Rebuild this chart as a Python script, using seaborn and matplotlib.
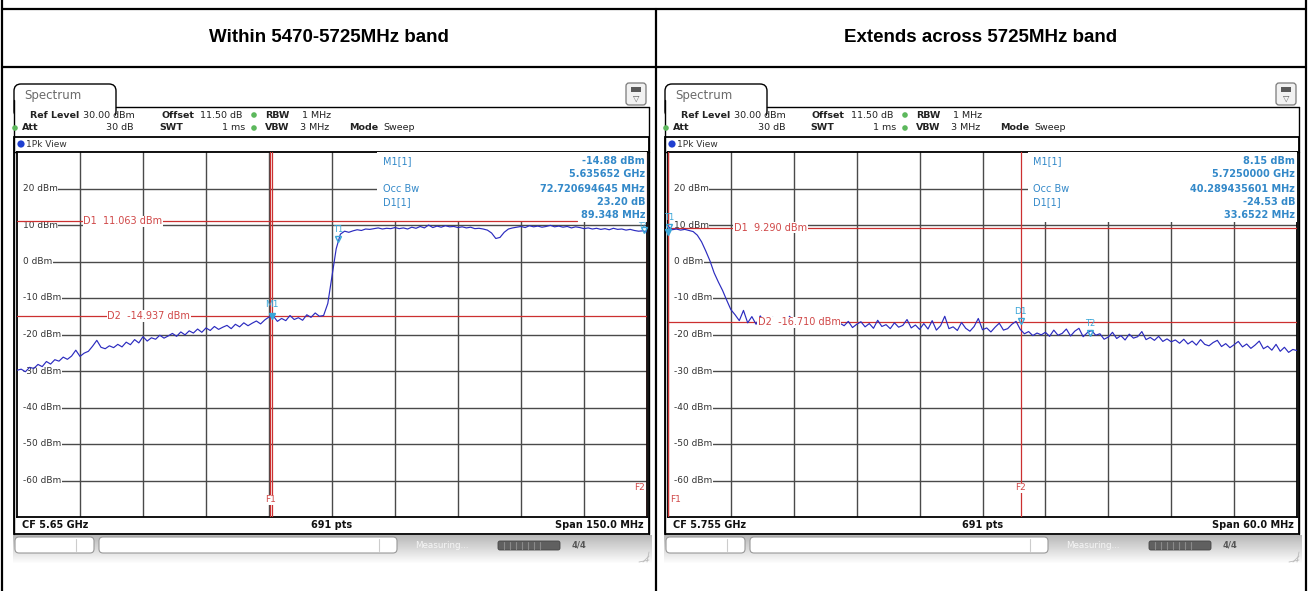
import numpy as np
import matplotlib
matplotlib.use("Agg")
import matplotlib.pyplot as plt
import seaborn as sns
from matplotlib.patches import Rectangle, FancyBboxPatch, Circle

# ---------------- data ----------------
headers = ["Within 5470-5725MHz band", "Extends across 5725MHz band"]
y_ticks = [20, 10, 0, -10, -20, -30, -40, -50, -60]

# left sweep: 5.575 - 5.725 GHz (CF 5.65 GHz, span 150 MHz)
left_start, left_stop = 5.575, 5.725
left_levels = [
    -29.8, -29.5, -30.2, -29.0, -29.3, -28.2, -28.8, -27.4, -28.1, -26.9,
    -27.3, -26.2, -26.8, -25.9, -24.3, -26.0, -25.1, -24.6, -23.2, -21.6,
    -23.5, -23.9, -23.1, -23.6, -22.7, -23.4, -22.1, -22.8, -21.4, -22.3,
    -20.6, -21.8, -20.9, -21.3, -20.2, -21.0, -20.4, -19.7, -20.5, -19.3,
    -20.1, -19.0, -19.6, -18.5, -19.4, -18.2, -18.9, -17.8, -18.6, -18.0,
    -17.5, -18.4, -17.2, -17.9, -16.8, -17.6, -16.9, -16.3, -17.1, -16.0,
    -15.2, -14.9, -16.4, -15.6, -16.2, -14.8, -15.9, -15.4, -16.1, -14.6,
    -15.3, -14.1, -15.0, -14.8, -11.5, -4.0, 3.5, 7.5, 8.3, 8.0,
    8.4, 8.7, 8.5, 8.9, 8.8, 9.0, 9.2, 8.9, 9.1, 9.0,
    9.3, 9.0, 9.2, 8.9, 9.4, 9.1, 9.6, 9.2, 10.0, 9.3,
    9.7, 9.4, 9.8, 9.5, 9.6, 9.3, 9.5, 9.2, 9.4, 9.0,
    9.1, 8.9, 8.6, 7.8, 6.3, 6.6, 8.0, 8.9, 9.2, 9.4,
    9.6, 9.3, 9.8, 9.5, 9.7, 9.4, 9.6, 9.9, 9.5, 9.7,
    9.4, 9.6, 9.2, 9.5, 9.3, 9.0, 9.2, 8.9, 9.1, 8.8,
    9.0, 8.7, 9.1, 8.8, 8.9, 8.6, 8.8, 8.5, 8.3, 8.4, 8.1,
]

# right sweep: 5.725 - 5.785 GHz (CF 5.755 GHz, span 60 MHz)
right_start, right_stop = 5.725, 5.785
right_levels = [
    9.6, 8.7, 8.9, 8.6, 8.8, 8.5, 8.2, 7.2, 5.4, 2.9,
    0.2, -3.1, -5.6, -7.9, -10.6, -13.2, -14.6, -16.2, -13.4, -16.8,
    -15.1, -17.2, -14.9, -16.6, -17.0, -15.3, -16.9, -16.2, -17.3, -15.0,
    -16.8, -17.1, -16.0, -17.4, -15.4, -16.9, -17.5, -16.3, -17.2, -16.6,
    -17.8, -16.9, -17.6, -16.4, -18.1, -17.2, -16.5, -17.9, -17.0, -18.3,
    -16.1, -17.8, -17.3, -18.4, -16.8, -18.0, -17.5, -15.9, -18.2, -17.4,
    -18.6, -17.0, -18.5, -16.2, -18.8, -17.6, -15.0, -18.4, -17.9, -18.9,
    -16.7, -18.3, -19.1, -17.8, -15.6, -18.7, -18.2, -19.3, -18.0, -16.9,
    -18.8, -18.4, -17.2, -16.4, -18.6, -19.8, -19.2, -20.3, -19.6, -20.1,
    -19.4, -20.5, -18.8, -20.2, -19.7, -18.5, -20.4, -19.1, -18.3, -20.6,
    -19.5, -18.9, -20.2, -19.8, -21.3, -20.7, -19.4, -21.1, -20.3, -21.5,
    -19.9, -21.0, -20.6, -19.2, -21.4, -20.8, -21.6, -20.5, -21.9, -21.2,
    -22.0, -21.5, -22.4, -21.3, -22.6, -21.8, -22.9, -21.4, -22.7, -23.1,
    -22.2, -21.6, -23.3, -22.5, -23.6, -22.8, -21.9, -23.4, -22.6, -23.8,
    -22.9, -21.8, -23.9, -23.2, -24.3, -22.7, -24.6, -23.5, -24.9, -24.1, -24.4,
]

left_info = {
    "cf": "CF 5.65 GHz", "span": "Span 150.0 MHz",
    "d1": 11.063, "d2": -14.937, "d1_txt": "D1  11.063 dBm", "d2_txt": "D2  -14.937 dBm",
    "m1_f": 5.635652, "m1_v": -14.88, "f1": 5.63535, "f2": 5.725,
    "t1_f": 5.6515, "t1_v": 6.2, "t2_f": 5.7242, "t2_v": 8.6,
    "rows": [("M1[1]", "-14.88 dBm"), ("", "5.635652 GHz"), ("Occ Bw", "72.720694645 MHz"),
             ("D1[1]", "23.20 dB"), ("", "89.348 MHz")],
}
right_info = {
    "cf": "CF 5.755 GHz", "span": "Span 60.0 MHz",
    "d1": 9.290, "d2": -16.710, "d1_txt": "D1  9.290 dBm", "d2_txt": "D2  -16.710 dBm",
    "m1_f": 5.7250, "m1_v": 8.15, "f1": 5.7250, "f2": 5.7586522,
    "t1_f": 5.7251, "t1_v": 9.4, "t2_f": 5.76528, "t2_v": -19.5,
    "rows": [("M1[1]", "8.15 dBm"), ("", "5.7250000 GHz"), ("Occ Bw", "40.289435601 MHz"),
             ("D1[1]", "-24.53 dB"), ("", "33.6522 MHz")],
}

# ---------------- style ----------------
sns.set_style("white")
plt.rcParams["font.family"] = ["DejaVu Sans"]

W, H = 1309, 591
RED = "#cc3030"
RED_T = "#d04848"
BLUE_T = "#3389c9"
MARK = "#3aa6d8"
TRACE = "#2b2bbf"
GRID = "#4a4a4a"

fig = plt.figure(figsize=(W / 100, H / 100), dpi=100)
bg = fig.add_axes([0, 0, 1, 1])
bg.set_xlim(0, W)
bg.set_ylim(H, 0)
bg.axis("off")


def rect(x0, y0, x1, y1):
    return [x0 / W, 1 - y1 / H, (x1 - x0) / W, (y1 - y0) / H]


# table
for x, y0 in ((2, 0), (656, 9), (1306, 0)):
    bg.plot([x, x], [y0, H], color="black", lw=1.6, zorder=1)
for y in (9, 67):
    bg.plot([2, 1306], [y, y], color="black", lw=1.6, zorder=1)
for cx, t in zip((329, 981), headers):
    bg.text(cx, 38, t, ha="center", va="center", fontsize=13.5, fontweight="bold",
            family=["Liberation Sans", "DejaVu Sans"], color="black")


def chrome(L, R):
    # tab
    bg.add_patch(FancyBboxPatch((L - 3, 84), 102, 34, boxstyle="round,pad=0,rounding_size=7",
                                fc="white", ec="black", lw=1.0, zorder=2))
    bg.add_patch(Rectangle((L - 2, 107.6), 100, 12, fc="white", ec="none", zorder=3))
    bg.text(L + 7, 96, "Spectrum", fontsize=8.5, color="#6a6a6a", va="center", zorder=4)
    # frame
    bg.plot([L + 99, R + 2], [107, 107], color="black", lw=1.0, zorder=4)
    bg.plot([L - 3, L - 3], [100, 534], color="black", lw=1.0, zorder=4)
    bg.plot([R + 2, R + 2], [107, 534], color="black", lw=1.0, zorder=4)
    bg.add_patch(Rectangle((L - 3, 137), R - L + 5, 397, fc="none", ec="black", lw=1.3, zorder=4))
    bg.plot([L - 3, R + 2], [151.5, 151.5], color="black", lw=1.0, zorder=4)
    # icon
    bg.add_patch(FancyBboxPatch((R - 21, 83), 20, 22, boxstyle="round,pad=0,rounding_size=3",
                                fc="#f2f2f2", ec="#7a7a7a", lw=0.9, zorder=5))
    bg.add_patch(Rectangle((R - 16, 87), 10, 5, fc="#5a5a5a", ec="none", zorder=6))
    bg.text(R - 11, 98.5, "\u25BD", fontsize=6, ha="center", va="center", color="#5a5a5a", zorder=6)
    # settings
    fs = 6.8
    y1, y2 = 115, 128
    items = [
        (L + 13, y1, "Ref Level", "bold", "left"), (L + 66, y1, "30.00 dBm", "normal", "left"),
        (L + 144, y1, "Offset", "bold", "left"), (L + 183, y1, "11.50 dB", "normal", "left"),
        (L + 248, y1, "RBW", "bold", "left"), (L + 285, y1, "1 MHz", "normal", "left"),
        (L + 5, y2, "Att", "bold", "left"), (L + 117, y2, "30 dB", "normal", "right"),
        (L + 142, y2, "SWT", "bold", "left"), (L + 228, y2, "1 ms", "normal", "right"),
        (L + 248, y2, "VBW", "bold", "left"), (L + 283, y2, "3 MHz", "normal", "left"),
        (L + 332, y2, "Mode", "bold", "left"), (L + 366, y2, "Sweep", "normal", "left"),
    ]
    for x, y, t, wt, ha in items:
        bg.text(x, y, t, fontsize=fs, fontweight=wt, ha=ha, va="center", color="#222", zorder=5)
    for x, y in ((L + 237, y1), (L + 237, y2), (L - 2, y2)):
        bg.add_patch(Circle((x, y), 2.8, fc="#5cb85c", ec="none", zorder=6))
    bg.add_patch(Circle((L + 4, 144), 3.6, fc="#1f3fd0", ec="none", zorder=6))
    bg.text(L + 9, 144.5, "1Pk View", fontsize=6.5, va="center", color="#333", zorder=6)
    # status bar gradient
    grad = np.linspace(0.72, 0.99, 40).reshape(-1, 1)
    bg.imshow(grad, extent=[L - 4, R + 5, 563, 535], cmap="gray", vmin=0, vmax=1,
              aspect="auto", zorder=1, interpolation="bilinear")
    bg.add_patch(FancyBboxPatch((L - 2, 537), 79, 16, boxstyle="round,pad=0,rounding_size=4",
                                fc="white", ec="#999", lw=0.8, zorder=2))
    bg.plot([L + 59, L + 59], [539, 551], color="#ccc", lw=0.8, zorder=3)
    bg.add_patch(FancyBboxPatch((L + 82, 537), 298, 16, boxstyle="round,pad=0,rounding_size=4",
                                fc="white", ec="#999", lw=0.8, zorder=2))
    bg.plot([L + 362, L + 362], [539, 551], color="#ccc", lw=0.8, zorder=3)
    bg.text(L + 398, 545, "Measuring...", fontsize=6.3, color="white", alpha=0.8, va="center", zorder=3)
    bg.add_patch(FancyBboxPatch((L + 481, 541), 62, 9, boxstyle="round,pad=0,rounding_size=2",
                                fc="#606060", ec="#444", lw=0.6, zorder=3))
    for k in range(1, 8):
        bg.plot([L + 481 + 6 * k, L + 481 + 6 * k], [542, 549], color="#8a8a8a", lw=0.8, zorder=4)
    bg.text(L + 555, 545.5, "4/4", fontsize=6, fontweight="bold", color="#555", va="center", zorder=3)
    for k in range(3):
        bg.plot([R - 8 + 4 * k, R + 2], [562, 552 - 4 * k + 8], color="#bbb", lw=0.6, zorder=3)


def panel(L, R, start, stop, levels, info):
    T, B = 152, 517
    chrome(L, R)
    span = stop - start
    freq = np.linspace(start, stop, len(levels))
    ax = fig.add_axes(rect(L, T, R, B))
    ax.set_xlim(start, stop)
    ax.set_ylim(-70, 30)
    ax.set_xticks([])
    ax.set_yticks([])
    for s in ax.spines.values():
        s.set_color("black")
        s.set_linewidth(1.3)
    ax.set_facecolor("white")
    # grid
    for y in y_ticks:
        ax.axhline(y, xmin=0.009, xmax=1, color=GRID, lw=1.0, zorder=1)
    for i in range(1, 10):
        ax.axvline(start + i * span / 10, color=GRID, lw=1.0, zorder=1)
    yt = ax.get_yaxis_transform()
    for y in y_ticks:
        ax.text(0.009, y, f"{y} dBm", transform=yt, fontsize=6.5, color="#333", va="center",
                ha="left", zorder=2, bbox=dict(fc="white", ec="none", pad=0.6))
    # marker text block
    ax.add_patch(Rectangle((0.572, 10.9), 0.43, 20, transform=yt, fc="white", ec="none", zorder=3))
    rows_y = [27.5, 24.0, 19.9, 16.3, 12.7]
    for (lab, val), y in zip(info["rows"], rows_y):
        if lab:
            ax.text(0.581, y, lab, transform=yt, fontsize=7, color=BLUE_T, va="center", ha="left", zorder=6)
        ax.text(0.997, y, val, transform=yt, fontsize=7, fontweight="bold", color=BLUE_T,
                va="center", ha="right", zorder=6)
    # display lines
    d1_end = 0.889 if info["d1"] > 10.5 else 1.0
    ax.axhline(info["d1"], xmin=0, xmax=d1_end, color=RED, lw=0.9, zorder=4)
    ax.axhline(info["d2"], color=RED, lw=0.9, zorder=4)
    ax.text(0.105, info["d1"], info["d1_txt"], transform=yt, fontsize=7, color=RED_T, va="center",
            zorder=5.5, bbox=dict(fc="white", ec="none", pad=0.4))
    ax.text(0.143, info["d2"], info["d2_txt"], transform=yt, fontsize=7, color=RED_T, va="center",
            zorder=5.5, bbox=dict(fc="white", ec="none", pad=0.4))
    # frequency lines
    for f in (info["f1"], info["m1_f"]):
        ax.axvline(f, color=RED, lw=0.9, zorder=4)
    ax.axvline(info["f2"], color=RED, lw=0.9, zorder=4)
    f1_ha = "center" if info["f1"] > start + 0.01 * span else "left"
    f1_x = info["f1"] if f1_ha == "center" else start + 0.004 * span
    ax.text(f1_x, -65.3, "F1", fontsize=6.5, color=RED_T, ha=f1_ha, va="center", zorder=5,
            bbox=dict(fc="white", ec="none", pad=0.3))
    f2_ha = "center" if info["f2"] < stop - 0.01 * span else "right"
    f2_x = info["f2"] if f2_ha == "center" else stop - 0.004 * span
    ax.text(f2_x, -62.0, "F2", fontsize=6.5, color=RED_T, ha=f2_ha, va="center", zorder=5,
            bbox=dict(fc="white", ec="none", pad=0.5))
    # trace
    sns.lineplot(x=freq, y=levels, ax=ax, color=TRACE, linewidth=0.85, estimator=None,
                 sort=False, zorder=5)
    ax.set_xlabel("")
    ax.set_ylabel("")
    # markers
    ax.plot([info["m1_f"]], [info["m1_v"]], marker="v", ms=5, color=MARK, mec=MARK, zorder=7, clip_on=False)
    ax.plot([info["t1_f"]], [info["t1_v"]], marker="v", ms=5, mfc="none", mec=MARK, zorder=7, clip_on=False)
    ax.plot([info["t2_f"]], [info["t2_v"]], marker="v", ms=5, mfc="none", mec=MARK, zorder=7, clip_on=False)
    ax.text(info["t1_f"], info["t1_v"] + 2.6, "T1", fontsize=6, color=MARK, ha="center", va="center", zorder=7)
    if info["t2_f"] > stop - 0.01 * span:
        ax.text(stop, info["t2_v"] + 1.4, "T2", fontsize=5, color=MARK, ha="right", va="center", zorder=7)
    else:
        ax.text(info["t2_f"], info["t2_v"] + 2.6, "T2", fontsize=6, color=MARK, ha="center", va="center", zorder=7)
    if info["m1_f"] > start + 0.01 * span:
        ax.text(info["m1_f"], info["m1_v"] + 3.0, "M1", fontsize=6.5, color=MARK, ha="center", va="center", zorder=7)
    else:
        d1v = info["m1_v"] - 24.53
        ax.plot([info["f2"]], [d1v], marker="v", ms=4, mfc="none", mec=MARK, zorder=7)
        ax.text(info["f2"], d1v + 2.8, "D1", fontsize=6.5, color=MARK, ha="center", va="center", zorder=7)
    # bottom bar texts
    bg.text(L + 5, 525.5, info["cf"], fontsize=7, fontweight="bold", color="#111", va="center", zorder=6)
    bg.text((L + R) / 2, 525.5, "691 pts", fontsize=7, fontweight="bold", color="#111", ha="center",
            va="center", zorder=6)
    bg.text(R - 3, 525.5, info["span"], fontsize=7, fontweight="bold", color="#111", ha="right",
            va="center", zorder=6)


panel(17, 647, left_start, left_stop, left_levels, left_info)
panel(668, 1297, right_start, right_stop, right_levels, right_info)

bg.set_xlim(0, W)
bg.set_ylim(H, 0)
fig.savefig("out.png", dpi=100)
